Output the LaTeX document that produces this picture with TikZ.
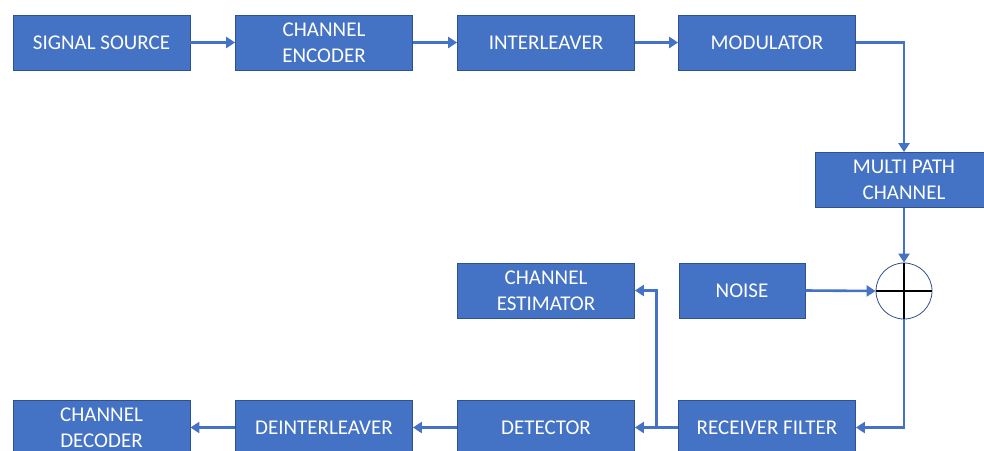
\documentclass[tikz,border=0pt]{standalone}
\usepackage{fontspec}
\setmainfont{Carlito}
\usetikzlibrary{
    arrows.meta,
    calc,
    positioning
}
\definecolor{boxblue}{HTML}{4472C4}
\definecolor{boxedge}{HTML}{2F528F}
\tikzset{
    block/.style={draw=boxedge, line width=0.8pt, fill=boxblue, text=white,
        minimum width=177, minimum height=55, align=center,
        font=\fontsize{21}{26}\selectfont},
    link/.style={draw=boxblue, line width=2.6pt, -{Triangle[length=9pt, width=11pt]}}
}

\begin{document}
\begin{tikzpicture}[x=1pt, y=-1pt]
    \useasboundingbox (0, 0) rectangle (984, 450);
    \fill[white] (0, 0) rectangle (984, 450);

    % transmitter chain
    \node[block] (src) at (101.5, 42.5) {SIGNAL SOURCE};
    \node[block] (enc) at (324, 42.5) {CHANNEL\\ENCODER};
    \node[block] (intl) at (546, 42.5) {INTERLEAVER};
    \node[block] (mod) at (767, 42.5) {MODULATOR};
    \node[block] (mpc) at (904, 180) {MULTI PATH\\CHANNEL};

    % noise and sum
    \node[block, minimum width=126] (noise) at (742, 290.5) {NOISE};
    \node[circle, draw=boxedge, line width=0.8pt, fill=white, minimum size=56, inner sep=0pt] (sum) at (904, 291) {};
    \draw[black, line width=2.6pt] (sum.north) -- (sum.south) (sum.west) -- (sum.east);
    \node[block] (est) at (546, 290.5) {CHANNEL\\ESTIMATOR};

    % receiver chain
    \node[block] (rx) at (767, 427.5) {RECEIVER FILTER};
    \node[block] (det) at (546, 427.5) {DETECTOR};
    \node[block] (deint) at (324, 427.5) {DEINTERLEAVER};
    \node[block] (dec) at (101.5, 427.5) {CHANNEL\\DECODER};

    \draw[link] (src) -- (enc);
    \draw[link] (enc) -- (intl);
    \draw[link] (intl) -- (mod);
    \draw[link] (mod.east) -| (mpc.north);
    \draw[link] (mpc.south) -- (sum.north);
    \draw[link] (noise.east) -- (sum.west);
    \draw[link] (sum.south) |- (rx.east);
    \draw[link] (rx.west) -- (det.east);
    \coordinate (tap) at ($(det.east)!0.5!(rx.west)$);
    \draw[link] (tap) |- (est.east);
    \draw[link] (det) -- (deint);
    \draw[link] (deint) -- (dec);
\end{tikzpicture}
\end{document}
